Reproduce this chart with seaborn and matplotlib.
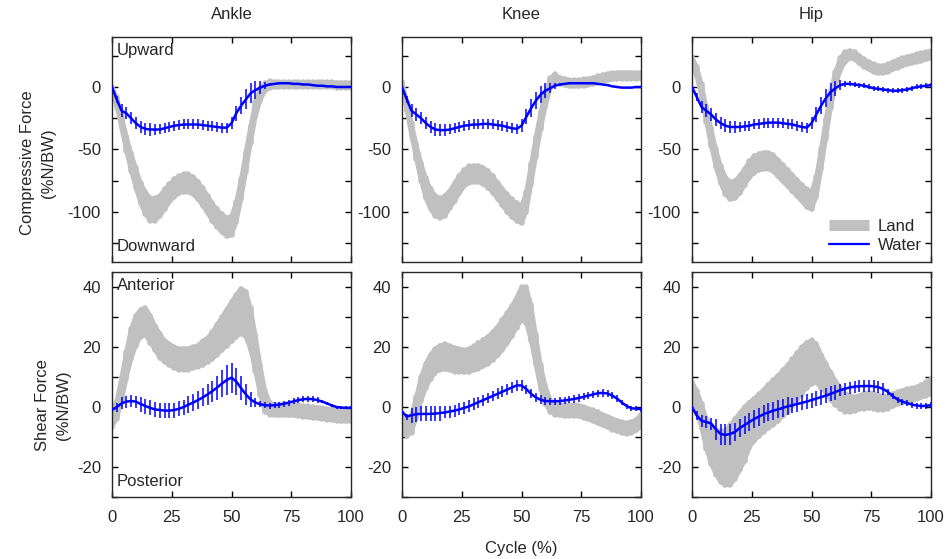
import numpy as np
import matplotlib
matplotlib.use("Agg")
import matplotlib.pyplot as plt
from matplotlib.lines import Line2D
from matplotlib.ticker import MultipleLocator
import seaborn as sns

# ----------- data (% gait cycle every 2 %) -----------
cycle = list(range(0, 101, 2))
joints = ["Ankle", "Knee", "Hip"]

# compressive force, land (mean, sd)
ankle_comp_land = [-2, -12, -28, -45, -60, -73, -85, -93, -98, -98,
                   -95, -90, -85, -81, -78, -77, -77, -79, -83, -88,
                   -94, -100, -105, -109, -112, -111, -100, -82, -60, -38,
                   -18, -6, 0, 2, 2, 2, 2, 2, 2, 2,
                   2, 2, 2, 2, 2, 2, 2, 1.5, 1.5, 1.5, 1.5]
ankle_comp_land_sd = [2, 4, 5, 6, 7, 8, 8, 9, 9, 9,
                      8, 8, 7, 7, 7, 7, 7, 7, 7, 7,
                      7, 7, 7, 7, 7.5, 7.5, 8, 8, 8, 7,
                      6, 5, 3, 2.5, 2, 2, 2, 2, 2, 2,
                      2, 2, 2, 2, 2, 2, 2, 2, 2, 2, 2]
knee_comp_land = [2, -15, -34, -52, -68, -81, -90, -95, -97, -95,
                  -90, -84, -78, -73, -70, -69.5, -69.5, -71, -74, -78,
                  -83, -88, -93, -97, -100, -102, -92, -70, -48, -27,
                  -10, 3, 7, 5, 4, 3, 3, 3, 3.5, 4,
                  5, 6, 7, 8, 8.5, 9, 9, 9, 9, 9, 9]
knee_comp_land_sd = [2, 4, 5, 6, 7, 8, 8, 8, 8, 8,
                     7, 7, 7, 6.5, 6.5, 6.5, 6.5, 6.5, 6.5, 6.5,
                     6.5, 6.5, 7, 7, 7, 7, 8, 8, 8, 7,
                     6, 4, 3, 2.5, 2.5, 2.5, 2.5, 2.5, 2.5, 2.5,
                     2.5, 2.5, 2.5, 2.5, 2.5, 2.5, 2.5, 2.5, 2.5, 2.5, 2.5]
hip_comp_land = [21, 12, -3, -22, -40, -57, -70, -79, -83, -82,
                 -78, -72, -66, -62, -60, -59, -59, -61, -65, -69,
                 -73, -77, -81, -85, -89, -91, -80, -58, -34, -10,
                 6, 18, 24, 26, 25, 22, 19, 17, 15, 14,
                 14, 15, 17, 18.5, 20, 21, 22, 23, 24, 25, 26]
hip_comp_land_sd = [3, 4, 5, 6, 7, 7, 7, 7, 7, 7,
                    7, 6.5, 6.5, 6.5, 6.5, 6.5, 6.5, 6.5, 6.5, 6.5,
                    6.5, 6.5, 6.5, 6.5, 7, 7, 8, 8, 8, 7,
                    6, 5, 4, 3, 3, 3, 3, 3, 3, 3,
                    3, 3, 3, 3, 3, 3, 3, 3, 3, 3, 3]

# compressive force, water (mean, sd)
ankle_comp_water = [0, -10, -19, -21, -25, -29, -32, -33.5, -34, -34,
                    -34, -33, -32, -31, -30.5, -30, -30, -30, -30, -30.5,
                    -31, -31.5, -32, -32.5, -32.5, -29, -21, -15, -10, -5,
                    -2.5, -0.5, 1, 2, 2.5, 3, 3, 3, 2.5, 2.5,
                    2, 2, 1.5, 1, 1, 0.5, 0.5, 0, 0, 0, 0]
ankle_comp_water_sd = [0, 3, 5, 5, 5, 5, 5, 5, 5, 4.5,
                       4, 4, 4, 4, 4, 4, 4, 4, 4, 4,
                       4, 4, 4, 4, 4, 5, 6, 7, 8, 8,
                       7, 5, 3, 1.5, 1, 1, 1, 1, 1, 1,
                       0.5, 0.5, 0.5, 0.5, 0.5, 0.5, 0.5, 0.5, 0.5, 0.5, 0.5]
knee_comp_water = [0, -10, -19, -22, -25, -29, -32, -34, -34.5, -34.5,
                   -34, -33, -32, -31, -30.5, -30, -30, -29.5, -29.5, -30,
                   -30.5, -31, -32, -33, -33.5, -31, -24, -17, -11, -6,
                   -3, -1, 1, 2, 2.5, 3, 3, 3, 3, 3,
                   3, 2.5, 2, 1.5, 0.5, 0, -0.5, -0.5, -0.5, 0, 0]
knee_comp_water_sd = [0, 3, 5, 5, 5, 5, 5, 5, 5, 4.5,
                      4, 4, 4, 4, 4, 4, 4, 4, 4, 4,
                      4, 4, 4, 4, 4, 5, 6, 7, 7, 7,
                      6, 4, 2.5, 1.5, 1, 1, 1, 1, 1, 1,
                      0.5, 0.5, 0.5, 0.5, 0.5, 0.5, 0.5, 0.5, 0.5, 0.5, 0.5]
hip_comp_water = [0, -8, -16, -19, -22, -26, -29, -31, -32, -32,
                  -32, -31.5, -31, -30, -29.5, -29, -28.5, -28.5, -28.5, -29,
                  -29.5, -30, -31, -32, -32.5, -29, -22, -15, -9, -4,
                  -1, 1.5, 2.5, 2.5, 2, 1.5, 1, 0, -1, -1.5,
                  -2, -2.5, -3, -3, -2.5, -2, -1, 0, 0.5, 1, 1.5]
hip_comp_water_sd = [0, 3, 5, 5, 5, 5, 5, 5, 5, 4.5,
                     4, 4, 4, 4, 4, 4, 4, 4, 4, 4,
                     4, 4, 4, 4, 4, 5, 6, 7, 7, 7,
                     6, 4, 2.5, 2, 2, 2, 2, 2, 2, 2,
                     2, 2, 2, 2, 2, 2, 2, 2, 2, 2, 2]

# shear force, land (mean, sd)
ankle_shear_land = [-3.5, -1, 6, 14, 21, 25.5, 28, 28.5, 26, 23,
                    20.5, 18.5, 17.5, 16.5, 16, 16, 16, 16.5, 17, 18,
                    19, 20.5, 22.5, 24.5, 26.5, 28.5, 30.5, 32, 31, 26,
                    18, 9, 2, -0.5, -1, -1, -1, -1, -1, -1.2,
                    -1.4, -1.6, -1.8, -2, -2.2, -2.4, -2.6, -2.8, -3, -3, -3]
ankle_shear_land_sd = [3, 3, 4, 4.5, 5, 5, 4.5, 4.5, 4.5, 4,
                       4, 3.5, 3.5, 3.5, 3.5, 3.5, 3.5, 3.5, 3.5, 4,
                       4, 4.5, 5, 5.5, 6, 6.5, 7, 7.5, 7.5, 7,
                       6, 5, 3.5, 2, 1.8, 1.8, 1.8, 1.8, 1.8, 1.8,
                       1.8, 1.8, 1.8, 1.8, 1.8, 1.8, 1.8, 1.8, 1.8, 1.8, 1.8]
knee_shear_land = [-6, -7, -5.5, 0, 6, 10.5, 13.5, 15.5, 16.5, 16.8,
                   16.3, 15.8, 15.5, 15.3, 15.5, 16.2, 17, 18, 19, 20.3,
                   22, 24, 26.3, 28.7, 31.5, 34.5, 34, 28, 19, 10,
                   4, 0.5, -0.7, -1, -1.2, -1.2, -1.1, -1.3, -1.8, -2.3,
                   -2.9, -3.6, -4.3, -5, -5.7, -6.3, -6.8, -7.2, -6.8, -6, -4.5]
knee_shear_land_sd = [3, 2.5, 3, 3.5, 4, 4, 4, 4, 4, 4.2,
                      4, 4, 3.8, 3.7, 3.8, 4, 4.2, 4.4, 4.5, 4.6,
                      4.8, 5, 5, 5, 5, 5.5, 6, 6, 5, 4,
                      3, 2, 1.8, 1.8, 1.8, 1.8, 1.8, 1.8, 1.8, 1.8,
                      1.8, 1.8, 1.8, 1.8, 1.8, 1.8, 1.8, 1.8, 1.8, 1.8, 2]
hip_shear_land = [5.5, 2, -3, -9, -12.5, -15, -16.5, -17, -16, -14,
                  -11.5, -9, -6, -4.2, -2.8, -1.2, 0.2, 1.5, 3, 4.6,
                  6.2, 8.2, 10.2, 12.2, 14, 15, 14.6, 12, 9.5, 7,
                  4.8, 3, 1.5, 1, 1, 1.5, 2, 2.2, 2, 1.5,
                  1.3, 1.5, 2.2, 3, 3.5, 3.8, 4.2, 4.6, 5.2, 6, 6.8]
hip_shear_land_sd = [2.8, 3.5, 4, 5, 6.5, 7.5, 8.5, 9, 10, 10,
                     9.5, 9, 7.5, 7, 7, 7, 7.2, 7.5, 7.5, 7.6,
                     7.7, 7.7, 7.7, 7.7, 7.5, 7.2, 6.4, 5.5, 4.8, 4.5,
                     4, 3.5, 3, 2.7, 2.3, 2.3, 2.5, 2.6, 2.5, 2.4,
                     2.3, 2, 2, 2, 2, 2.2, 2, 2, 2, 2.2, 2.5]

# shear force, water (mean, sd)
ankle_shear_water = [-1, 0, 1.2, 1.8, 2, 1.8, 1, 0.3, -0.3, -0.8,
                     -1, -1.2, -1.2, -1, -0.6, 0, 0.8, 1.5, 2.3, 3.2,
                     4.2, 5.3, 6.5, 7.8, 9, 9.8, 8.5, 6.3, 4.2, 2.5,
                     1.5, 0.9, 0.6, 0.5, 0.6, 0.8, 1.1, 1.5, 1.9, 2.3,
                     2.6, 2.7, 2.6, 2.3, 1.8, 1.2, 0.5, 0, -0.2, -0.3, -0.3]
ankle_shear_water_sd = [1, 1.5, 2, 2, 2, 2, 2.5, 2.5, 2.5, 2.5,
                        2.5, 2.5, 2.5, 2.5, 2.5, 2.5, 2.8, 2.8, 3, 3,
                        3.5, 3.5, 4, 4.5, 5, 5, 4.5, 4, 3.5, 2.5,
                        1.5, 1, 1, 1, 1, 1, 1, 1, 1, 1,
                        1, 1, 1, 1, 0.5, 0.5, 0.5, 0.5, 0.5, 0.5, 0.5]
knee_shear_water = [-1.5, -3.2, -2.7, -2.4, -2.3, -2.3, -2.3, -2.2, -2, -1.8,
                    -1.5, -1.2, -0.8, -0.3, 0.2, 0.9, 1.6, 2.3, 3, 3.7,
                    4.4, 5.1, 5.8, 6.5, 7.2, 7.2, 6, 4.4, 3.2, 2.4,
                    2, 1.9, 1.9, 2, 2.2, 2.4, 2.7, 3, 3.4, 3.8,
                    4.2, 4.6, 4.7, 4.5, 3.8, 2.8, 1.5, 0.3, -0.4, -0.6, -0.7]
knee_shear_water_sd = [0.5, 1, 2.5, 2.5, 2.5, 2.5, 2.5, 2.5, 2.5, 2,
                       2, 2, 2, 2, 2, 2, 1.8, 1.8, 1.8, 1.8,
                       1.8, 1.8, 1.8, 1.8, 1.8, 1.8, 1.5, 1.5, 1.5, 1.5,
                       1.2, 1.2, 1.2, 1.2, 1.2, 1.2, 1.2, 1.2, 1.2, 1.2,
                       1.2, 1.2, 1.2, 1.2, 1.2, 1.2, 0.8, 0.8, 0.8, 0.8, 0.8]
hip_shear_water = [0, -2.9, -4.6, -5, -5.5, -7.5, -9, -9.3, -9, -8.3,
                   -7, -6, -5, -4, -3.2, -2.4, -1.8, -1.2, -0.8, -0.3,
                   0.2, 0.6, 1, 1.4, 1.8, 2.3, 2.8, 3.3, 3.8, 4.4,
                   5, 5.6, 6.1, 6.5, 6.8, 6.9, 7, 7, 6.9, 6.6,
                   6, 5, 3.6, 2.5, 1.8, 1.3, 0.8, 0.5, 0.3, 0.4, 0.6]
hip_shear_water_sd = [0.5, 1.5, 2, 2, 2, 3.5, 3.5, 3.5, 3.5, 3,
                      3, 3, 3, 3, 3, 3, 3, 3, 3, 3,
                      3, 2.5, 2.5, 2.5, 2.5, 2.5, 2.5, 2.5, 2.5, 2.5,
                      2.5, 2, 2, 2, 2, 2, 2, 2, 2, 2,
                      2, 1, 1, 1, 1, 1, 1, 1, 1, 1, 1]

land = [[(ankle_comp_land, ankle_comp_land_sd), (knee_comp_land, knee_comp_land_sd), (hip_comp_land, hip_comp_land_sd)],
        [(ankle_shear_land, ankle_shear_land_sd), (knee_shear_land, knee_shear_land_sd), (hip_shear_land, hip_shear_land_sd)]]
water = [[(ankle_comp_water, ankle_comp_water_sd), (knee_comp_water, knee_comp_water_sd), (hip_comp_water, hip_comp_water_sd)],
         [(ankle_shear_water, ankle_shear_water_sd), (knee_shear_water, knee_shear_water_sd), (hip_shear_water, hip_shear_water_sd)]]

# ----------- plotting -----------
sns.set_style("ticks")
plt.rcParams['font.family'] = ['Liberation Sans', 'DejaVu Sans']
plt.rcParams['axes.linewidth'] = 1.0
plt.rcParams['axes.unicode_minus'] = False

LAND_C = '#c0c0c0'
WATER_C = '#0000ff'
W, H = 946, 559
col_left = [112, 402, 692]
row_top = [37, 272]
aw, ah = 239, 225

fig = plt.figure(figsize=(W / 100, H / 100), dpi=100)

for r in range(2):
    for c in range(3):
        ax = fig.add_axes([col_left[c] / W, 1 - (row_top[r] + ah) / H, aw / W, ah / H])
        lm, lsd = land[r][c]
        wm, wsd = water[r][c]
        lo = np.array(lm) - np.array(lsd)
        hi = np.array(lm) + np.array(lsd)

        # land: mean +/- sd drawn as a thick grey band
        ax.fill_between(cycle, lo, hi, color=LAND_C, lw=0, zorder=1)
        ax.plot(cycle, lo, color=LAND_C, lw=3, solid_capstyle='round', zorder=1)
        ax.plot(cycle, hi, color=LAND_C, lw=3, solid_capstyle='round', zorder=1)
        eb = ax.errorbar(cycle, lm, yerr=lsd, fmt='none', ecolor=LAND_C,
                         elinewidth=4, capsize=0, zorder=1)
        eb[2][0].set_capstyle('round')

        # water: mean line with sd bars
        ax.errorbar(cycle[1:], wm[1:], yerr=wsd[1:], fmt='none', ecolor=WATER_C,
                    elinewidth=1.1, capsize=0, zorder=2)
        sns.lineplot(x=cycle, y=wm, ax=ax, color=WATER_C, lw=1.8, zorder=3)

        ax.set_xlim(0, 100)
        ax.xaxis.set_major_locator(MultipleLocator(25))
        if r == 0:
            ax.set_ylim(-140, 40)
            ax.yaxis.set_major_locator(MultipleLocator(50))
            ax.yaxis.set_minor_locator(MultipleLocator(25))
            ax.set_title(joints[c], fontsize=12, pad=13)
            ax.tick_params(axis='x', labelbottom=False)
        else:
            ax.set_ylim(-30, 45)
            ax.yaxis.set_major_locator(MultipleLocator(20))
            ax.yaxis.set_minor_locator(MultipleLocator(10))
        ax.tick_params(which='both', direction='in', top=True, right=True,
                       length=4, width=1, labelsize=12, color='black')
        ax.tick_params(axis='y', pad=8)
        ax.tick_params(axis='x', pad=9)
        ax.set_xlabel('')
        ax.set_ylabel('')

        if c == 0:
            if r == 0:
                ax.set_ylabel('Compressive Force\n(%N/BW)', fontsize=12, linespacing=1.5)
                ax.yaxis.set_label_coords(-0.234, 0.44)
                ax.text(0.02, 0.94, 'Upward', transform=ax.transAxes, ha='left', va='center', fontsize=12)
                ax.text(0.02, 0.07, 'Downward', transform=ax.transAxes, ha='left', va='center', fontsize=12)
            else:
                ax.set_ylabel('Shear Force\n(%N/BW)', fontsize=12, linespacing=1.5)
                ax.yaxis.set_label_coords(-0.173, 0.41)
                ax.text(0.02, 0.94, 'Anterior', transform=ax.transAxes, ha='left', va='center', fontsize=12)
                ax.text(0.02, 0.07, 'Posterior', transform=ax.transAxes, ha='left', va='center', fontsize=12)

        if r == 0 and c == 2:
            handles = [Line2D([], [], color=LAND_C, lw=8, solid_capstyle='butt'),
                       Line2D([], [], color=WATER_C, lw=1.6)]
            ax.legend(handles, ['Land', 'Water'], loc='lower right', frameon=False,
                      fontsize=12, handlelength=2.4, handletextpad=0.5,
                      borderaxespad=0.15, labelspacing=0.25)

fig.text(521 / W, 1 - 548 / H, 'Cycle (%)', ha='center', va='center', fontsize=12)

fig.savefig('out.png', dpi=100)
